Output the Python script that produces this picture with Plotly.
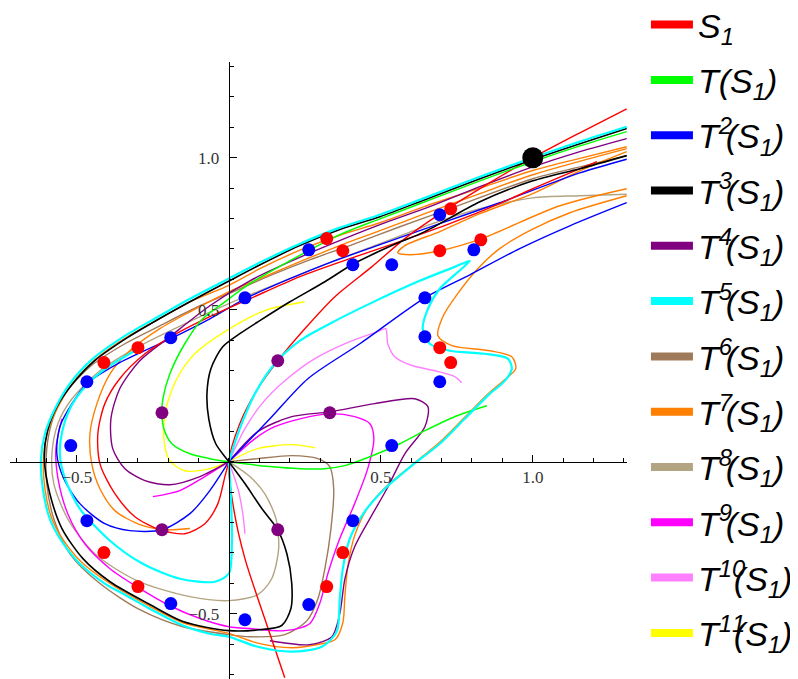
import plotly.graph_objects as go

# ---------------- data ----------------
sup_w = 13.2                 # width of one superscript digit at the legend font size (px)
sup_keep = {1: 7.0, 2: 15.0}  # horizontal room the superscript keeps in the reference labels (px)


def sup(k):
    s = str(k)
    return s[:-1] + f"<span style='letter-spacing:-{sup_w * len(s) - sup_keep[len(s)]:.1f}px'>{s[-1]}</span>"


labels = ["S<sub>1</sub>", "T(S<sub>1</sub>)"] + [f"T<sup>{sup(k)}</sup>(S<sub>1</sub>)" for k in range(2, 12)]
colors = ["#FF0000", "#00FF00", "#0000FF", "#000000", "#800080", "#00FFFF",
          "#9F7A5A", "#FF7F00", "#B4A582", "#FF00FF", "#FF80FF", "#FFFF00"]

# S1 (red)
s1_a = [(0.184,-0.711),(0.118,-0.516),(0.053,-0.319),(0.016,-0.155),(0,0),(0.036,0.125),(0.095,0.240),
        (0.161,0.332),(0.25,0.4375),(0.349,0.543),(0.470,0.641),(0.579,0.734),(0.711,0.826),(0.859,0.918),
        (1.0,1.0),(1.155,1.082),(1.309,1.161)]
s1_b = [(0,0),(-0.013,-0.049),(-0.036,-0.138),(-0.079,-0.204),(-0.145,-0.237),(-0.227,-0.224),(-0.309,-0.181),
        (-0.375,-0.105),(-0.424,-0.007),(-0.431,0.092),(-0.408,0.191),(-0.359,0.273),(-0.276,0.355),(-0.178,0.418),
        (-0.0625,0.477),(0.069,0.536),(0.234,0.609),(0.398,0.668),(0.5625,0.724),(0.727,0.783),(0.891,0.849),
        (1.0,0.898),(1.211,0.987)]
# T(S1) (green)
t1_a = [(1.309,1.086),(1.155,1.039),(1.0,0.987),(0.826,0.924),(0.645,0.855),(0.497,0.799),(0.365,0.747),
        (0.201,0.661),(0.069,0.586),(-0.013,0.526),(-0.086,0.470),(-0.145,0.388),(-0.194,0.289),(-0.217,0.207),
        (-0.220,0.161),(-0.214,0.109),(-0.1875,0.059),(-0.128,0.026),(-0.0625,0.010),(0,0),(0.135,-0.016),
        (0.234,-0.023),(0.316,-0.023),(0.382,-0.013),(0.464,0.016),(0.5625,0.059),(0.645,0.102),(0.743,0.148),
        (0.849,0.184)]
# T^2(S1) (blue)
t2_a = [(0,0),(0.135,0.141),(0.260,0.273),(0.431,0.388),(0.645,0.539),(0.793,0.615),(0.957,0.701),
        (1.122,0.776),(1.309,0.852)]
t2_b = [(0,0),(-0.0625,-0.095),(-0.128,-0.171),(-0.220,-0.224),(-0.326,-0.227),(-0.408,-0.204),(-0.490,-0.138),
        (-0.543,-0.056),(-0.566,0.026),(-0.556,0.115),(-0.516,0.191),(-0.467,0.257),(-0.359,0.326),(-0.191,0.405),
        (-0.0625,0.470),(0.053,0.536),(0.201,0.602),(0.332,0.655),(0.497,0.714),(0.694,0.783),(0.891,0.852),
        (1.155,0.950),(1.309,0.995)]
# T^3(S1) (black)
t3_a = [(1.309,1.007),(1.155,0.964),(1.0,0.924),(0.826,0.855),(0.645,0.757),(0.536,0.711),(0.405,0.648),
        (0.316,0.592),(0.201,0.526),(0.102,0.464),(0.036,0.421),(-0.020,0.378),(-0.059,0.306),(-0.072,0.224),
        (-0.066,0.141),(-0.043,0.059),(0,0),(0.053,-0.072),(0.109,-0.155),(0.161,-0.224),(0.191,-0.303),
        (0.207,-0.401),(0.204,-0.484),(0.174,-0.539),(0.102,-0.553),(0,-0.556),(-0.151,-0.526),(-0.260,-0.470),
        (-0.391,-0.395),(-0.480,-0.319),(-0.549,-0.220),(-0.589,-0.105),(-0.607,0.010),(-0.597,0.100),
        (-0.566,0.180),(-0.516,0.254),(-0.443,0.331),(-0.339,0.405),(-0.226,0.472),(-0.125,0.528),(-0.006,0.591),
        (0.103,0.648),(0.233,0.711),(0.365,0.764),(0.497,0.806),(0.645,0.862),(0.826,0.931),(1.0,0.994),
        (1.155,1.046),(1.309,1.096)]
# T^4(S1) (purple)
t4_a = [(1.309,1.063),(1.155,1.020),(1.0,0.970),(0.826,0.905),(0.661,0.839),(0.497,0.780),(0.332,0.714),
        (0.201,0.658),(0.069,0.595),(-0.0625,0.513),(-0.194,0.411),(-0.293,0.332),(-0.359,0.240),(-0.388,0.141),
        (-0.382,0.043),(-0.342,-0.023),(-0.276,-0.0625),(-0.194,-0.076),(-0.095,-0.049),(0,0)]
t4_b = [(0,0),(0.095,0.099),(0.207,0.148),(0.332,0.164),(0.480,0.191),(0.612,0.207),(0.655,0.181),
        (0.645,0.115),(0.579,0.026),(0.520,-0.089),(0.464,-0.1875),(0.414,-0.280),(0.382,-0.385),(0.365,-0.5),
        (0.339,-0.576),(0.266,-0.602),(0.135,-0.589)]
# T^5(S1) (cyan)
t5_a = [(1.309,1.102),(1.155,1.053),(1.0,1.0),(0.826,0.9375),(0.645,0.868),(0.497,0.8125),(0.365,0.770),
        (0.234,0.717),(0.102,0.655),(-0.007,0.599),(-0.128,0.536),(-0.227,0.480),(-0.342,0.414),(-0.447,0.339),
        (-0.523,0.257),(-0.572,0.174),(-0.605,0.092),(-0.618,0.010),(-0.612,-0.089),(-0.589,-0.188),
        (-0.549,-0.263),(-0.490,-0.336),(-0.408,-0.401),(-0.336,-0.441),(-0.260,-0.484),(-0.151,-0.539),
        (-0.063,-0.566),(0,-0.576),(0.095,-0.609),(0.207,-0.625),(0.306,-0.609),(0.355,-0.559),(0.365,-0.451),
        (0.375,-0.352),(0.398,-0.253),(0.447,-0.164),(0.513,-0.089),(0.602,-0.013),(0.694,0.059),(0.776,0.141),
        (0.859,0.224),(0.908,0.266),(0.931,0.306),(0.918,0.339),(0.842,0.355),(0.727,0.365),(0.661,0.388),
        (0.638,0.4375),(0.655,0.503),(0.694,0.569),(0.766,0.635),(0.793,0.661),(0.743,0.641),(0.628,0.595),
        (0.464,0.520),(0.332,0.454),(0.234,0.398),(0.151,0.322),(0.086,0.224),(0.036,0.109),(0,0)]
t5_b = [(0,0),(0.007,-0.122),(0.010,-0.270),(0,-0.368),(-0.046,-0.395),(-0.161,-0.385),(-0.283,-0.336),
        (-0.391,-0.260),(-0.490,-0.155),(-0.539,-0.056),(-0.556,0.026),(-0.548,0.10),(-0.52,0.18),(-0.47,0.25),
        (-0.40,0.31),(-0.30,0.37)]
# T^6(S1) (brown)
t6_a = [(0,0),(0.095,0.010),(0.207,0.020),(0.293,0.010),(0.332,-0.016),(0.345,-0.089),(0.336,-0.220),
        (0.316,-0.352),(0.293,-0.451),(0.257,-0.523),(0.184,-0.569),(0.069,-0.576),(0,-0.569),(-0.151,-0.543),
        (-0.293,-0.487),(-0.424,-0.401),(-0.523,-0.303),(-0.576,-0.188),(-0.599,-0.072),(-0.599,0.043),
        (-0.579,0.141),(-0.539,0.224),(-0.457,0.3125),(-0.342,0.388),(-0.227,0.447),(-0.095,0.513),(0,0.553),
        (0.135,0.612),(0.266,0.664),(0.398,0.711),(0.5625,0.773),(0.727,0.832),(1.0,0.931),(1.155,0.970),
        (1.309,1.007)]
# T^7(S1) (orange)
t7_a = [(1.309,1.030),(1.0,0.944),(0.826,0.882),(0.645,0.816),(0.497,0.760),(0.365,0.711),(0.234,0.658),
        (0.102,0.602),(0,0.559),(-0.128,0.493),(-0.227,0.4375),(-0.326,0.365),(-0.391,0.289),(-0.434,0.191),
        (-0.457,0.092),(-0.451,-0.007),(-0.424,-0.089),(-0.375,-0.161),(-0.293,-0.207),(-0.211,-0.224),
        (-0.128,-0.220)]
t7_b = [(1.309,0.875),(1.122,0.819),(0.990,0.760),(0.891,0.701),(0.819,0.635),(0.753,0.553),(0.704,0.477),
        (0.688,0.414),(0.734,0.382),(0.859,0.365),(0.931,0.345),(0.944,0.306),(0.908,0.270),(0.855,0.225),
        (0.780,0.150),(0.70,0.07),(0.61,-0.005),(0.525,-0.075),(0.458,-0.150),(0.415,-0.24),(0.392,-0.34),
        (0.382,-0.44),(0.375,-0.53),(0.350,-0.585),(0.30,-0.600),(0.207,-0.612),(0.095,-0.597),(0,-0.565),
        (-0.151,-0.53),(-0.26,-0.476),(-0.40,-0.395),(-0.485,-0.33),(-0.545,-0.257),(-0.583,-0.185),
        (-0.605,-0.089),(-0.61,0.01),(-0.598,0.092),(-0.565,0.174),(-0.515,0.257),(-0.44,0.336),(-0.338,0.408),
        (-0.225,0.472),(-0.128,0.526),(0,0.580),(0.102,0.635),(0.234,0.696),(0.365,0.745),(0.497,0.786),
        (0.645,0.840),(0.826,0.900),(1.0,0.958),(1.155,0.998),(1.309,1.036)]
t7_c = [(1.309,0.898),(1.089,0.842),(0.832,0.734),(0.694,0.694),(0.595,0.681),(0.556,0.6875),(0.579,0.711),
        (0.694,0.757),(0.826,0.816),(1.0,0.882),(1.155,0.957),(1.309,1.020)]
# T^8(S1) (tan)
t8_a = [(0,0),(0.069,-0.049),(0.118,-0.105),(0.155,-0.1875),(0.164,-0.286),(0.141,-0.385),(0.095,-0.4375),
        (0,-0.457),(-0.128,-0.444),(-0.303,-0.391),(-0.441,-0.303),(-0.530,-0.188),(-0.576,-0.072),
        (-0.582,0.026),(-0.5625,0.125),(-0.516,0.207),(-0.424,0.299),(-0.309,0.372),(-0.178,0.4375),(0,0.520),
        (0.168,0.589),(0.332,0.655),(0.497,0.717),(0.661,0.780),(0.826,0.832),(1.0,0.868),(1.155,0.875),
        (1.309,0.880)]
# T^9(S1) (magenta)
t9_a = [(0,0),(0.086,0.076),(0.151,0.115),(0.234,0.141),(0.332,0.158),(0.414,0.148),(0.464,0.125),
        (0.477,0.076),(0.457,-0.023),(0.414,-0.138),(0.365,-0.253),(0.326,-0.368),(0.299,-0.467),(0.266,-0.533),
        (0.184,-0.556),(0.069,-0.549),(0,-0.543),(-0.095,-0.516),(-0.194,-0.474),(-0.303,-0.411),(-0.391,-0.352),
        (-0.474,-0.270),(-0.530,-0.171),(-0.562,-0.056),(-0.569,0.043),(-0.549,0.141)]
t9_b = [(0,0),(-0.079,-0.049),(-0.161,-0.095),(-0.25,-0.115)]
# T^10(S1) (pink)
t10_a = [(0,0),(0.053,0.109),(0.109,0.191),(0.184,0.266),(0.283,0.339),(0.398,0.395),(0.490,0.428),
         (0.516,0.4375),(0.523,0.388),(0.546,0.345),(0.595,0.319),(0.678,0.299),(0.743,0.280),(0.766,0.260)]
t10_b = [(0,0),(0.030,-0.089),(0.046,-0.171),(0.053,-0.237)]
# T^11(S1) (yellow)
t11_a = [(0,0),(0.095,0.043),(0.207,0.056),(0.283,0.046)]
t11_b = [(0,0),(-0.0625,-0.023),(-0.145,-0.030),(-0.194,0.003),(-0.214,0.076),(-0.207,0.174),(-0.171,0.273),
         (-0.112,0.355),(-0.013,0.428),(0.118,0.497),(0.25,0.526)]

curves = [[s1_a, s1_b], [t1_a], [t2_a, t2_b], [t3_a], [t4_a, t4_b], [t5_a, t5_b],
          [t6_a], [t7_a, t7_b, t7_c], [t8_a], [t9_a, t9_b], [t10_a, t10_b], [t11_a, t11_b]]
draw_order = [8, 6, 7, 10, 11, 9, 4, 2, 0, 1, 3, 5]
line_widths = [1.4, 1.5, 1.4, 1.6, 1.4, 2.2, 1.4, 1.4, 1.4, 1.4, 1.4, 1.4]

# marked points
red_pts_x = [0.322, 0.375, 0.730, 0.694, 0.829, 0.694, 0.730, -0.299, -0.411, -0.411, -0.299, 0.375, 0.322]
red_pts_y = [0.734, 0.694, 0.832, 0.694, 0.730, 0.375, 0.326, 0.375, 0.326, -0.299, -0.411, -0.299, -0.411]
blue_pts_x = [0.263, 0.408, 0.536, 0.694, 0.806, 0.645, 0.645, 0.694, 0.053, -0.191, -0.467, -0.520,
              -0.467, -0.191, 0.053, 0.263, 0.408, 0.536]
blue_pts_y = [0.697, 0.648, 0.648, 0.8125, 0.697, 0.539, 0.411, 0.263, 0.539, 0.408, 0.263, 0.053,
              -0.194, -0.467, -0.520, -0.470, -0.194, 0.053]
purple_pts_x = [0.161, -0.220, 0.332, -0.220, 0.161]
purple_pts_y = [0.332, 0.161, 0.161, -0.224, -0.224]
fixed_pt_x = [1.0]
fixed_pt_y = [1.0]

x_range = [-0.72, 1.31]
y_range = [-0.715, 1.315]
x_ticks = [-0.5, 0.5, 1.0]
y_ticks = [-0.5, 0.5, 1.0]
tick_text = ["\u22120.5", "0.5", "1.0"]
minor_ticks = [round(-0.7 + 0.1 * i, 1) for i in range(21)]

# ---------------- figure ----------------
fig = go.Figure()


def join(branches):
    xs, ys = [], []
    for b in branches:
        xs += [p[0] for p in b] + [None]
        ys += [p[1] for p in b] + [None]
    return xs, ys


for i in draw_order:
    xs, ys = join(curves[i])
    fig.add_trace(go.Scatter(x=xs, y=ys, mode="lines", showlegend=False, hoverinfo="skip",
                             line=dict(color=colors[i], width=line_widths[i],
                                       shape="spline", smoothing=0.8)))

fig.add_trace(go.Scatter(x=red_pts_x, y=red_pts_y, mode="markers", showlegend=False,
                         marker=dict(color="#FF0000", size=13)))
fig.add_trace(go.Scatter(x=blue_pts_x, y=blue_pts_y, mode="markers", showlegend=False,
                         marker=dict(color="#0000FF", size=13)))
fig.add_trace(go.Scatter(x=purple_pts_x, y=purple_pts_y, mode="markers", showlegend=False,
                         marker=dict(color="#800080", size=13)))
fig.add_trace(go.Scatter(x=fixed_pt_x, y=fixed_pt_y, mode="markers", showlegend=False,
                         marker=dict(color="#000000", size=21)))

for i, (lab, col) in enumerate(zip(labels, colors)):
    fig.add_trace(go.Scatter(x=[None], y=[None], mode="lines", name=lab, legendgroup=str(i),
                             line=dict(color=col, width=8)))

xpos = (0 - y_range[0]) / (y_range[1] - y_range[0])
ypos = (0 - x_range[0]) / (x_range[1] - x_range[0])
tickfont = dict(family="Liberation Serif", size=17, color="#333333")
axis_common = dict(showgrid=False, zeroline=False, showline=True, linecolor="black", linewidth=1.2,
                   anchor="free", tickmode="array", ticktext=tick_text, ticks="inside", ticklen=7,
                   tickcolor="black", tickfont=tickfont, automargin=False,
                   minor=dict(tickmode="array", tickvals=minor_ticks, ticks="inside", ticklen=4,
                              tickcolor="black"))

# the page body adds an 8 px offset, so the figure is 8 px smaller and margins shifted
fig.update_layout(
    width=790, height=671,
    margin=dict(l=2, r=171, t=54, b=0, autoexpand=False),
    paper_bgcolor="white", plot_bgcolor="white",
    showlegend=True,
    legend=dict(x=1.0307, y=1.107, xanchor="left", yanchor="top", maxheight=700,
                font=dict(family="Liberation Sans", size=34, color="black", style="italic"),
                tracegroupgap=8.1, itemwidth=42, bgcolor="rgba(0,0,0,0)"),
    xaxis=dict(range=x_range, position=xpos, tickvals=x_ticks, ticklabelstandoff=0, **axis_common),
    yaxis=dict(range=y_range, position=ypos, tickvals=y_ticks, ticklabelstandoff=6, **axis_common),
)

fig.write_html("out.html")
